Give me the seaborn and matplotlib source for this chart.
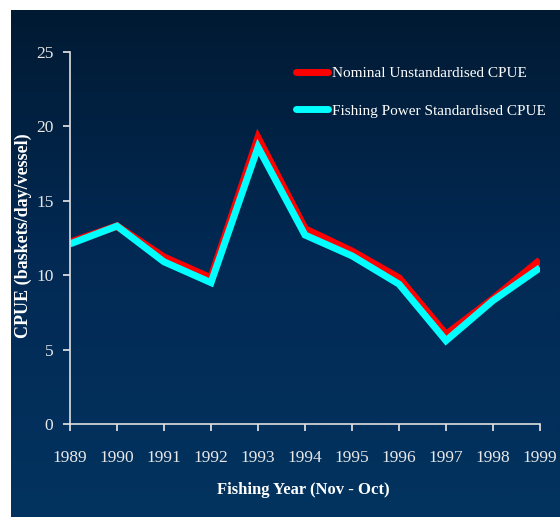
import numpy as np
import pandas as pd
import matplotlib
matplotlib.use("Agg")
import matplotlib.pyplot as plt
import seaborn as sns
from matplotlib.colors import LinearSegmentedColormap
from matplotlib.lines import Line2D

years = [1989, 1990, 1991, 1992, 1993, 1994, 1995, 1996, 1997, 1998, 1999]
nominal = [12.2, 13.3, 11.2, 9.8, 19.2, 13.1, 11.6, 9.8, 6.0, 8.4, 11.0]
standardised = [12.1, 13.3, 10.9, 9.5, 18.6, 12.7, 11.3, 9.4, 5.6, 8.3, 10.5]
series_names = ["Nominal Unstandardised CPUE", "Fishing Power Standardised CPUE"]
y_ticks = [0, 5, 10, 15, 20, 25]

df = pd.DataFrame({
    "year": years * 2,
    "cpue": nominal + standardised,
    "series": [series_names[0]] * len(years) + [series_names[1]] * len(years),
})

sns.set_theme(style="ticks")
plt.rcParams["font.family"] = ["Liberation Serif", "DejaVu Serif"]

W, H = 560, 517
fig = plt.figure(figsize=(W / 100, H / 100), dpi=100)
fig.patch.set_facecolor("white")

# gradient background
bg = fig.add_axes([11 / W, 0, (W - 11) / W, (H - 10) / H])
cmap = LinearSegmentedColormap.from_list("bg", ["#011a33", "#022a55", "#02335f"])
grad = np.linspace(0, 1, 256).reshape(-1, 1)
bg.imshow(grad, aspect="auto", cmap=cmap, extent=[0, 1, 0, 1], origin="upper")
bg.set_axis_off()

ax = fig.add_axes([70 / W, (H - 424) / H, (540 - 70) / W, (424 - 52) / H])
ax.set_facecolor("none")

sns.lineplot(data=df, x="year", y="cpue", hue="series",
             palette={series_names[0]: "#ff0000", series_names[1]: "#00ffff"},
             ax=ax, legend=False, sort=False)
for ln in ax.lines:
    ln.set_solid_joinstyle("miter")
    ln.set_solid_capstyle("butt")
ax.lines[0].set_linewidth(5.5)
ax.lines[1].set_linewidth(5)

ax.set_xlim(1989, 1999)
ax.set_ylim(0, 25)
ax.set_xticks(years)
ax.set_yticks(y_ticks)
for s in ["top", "right"]:
    ax.spines[s].set_visible(False)
for s in ["left", "bottom"]:
    ax.spines[s].set_color("#e0e0e0")
    ax.spines[s].set_linewidth(1.2)
ax.tick_params(colors="#e8e8e8", labelsize=12.5, length=5, width=1.2)
ax.tick_params(axis="x", pad=14)
ax.tick_params(axis="y", pad=7)
ax.set_xlabel("Fishing Year (Nov - Oct)", color="white", fontsize=12,
              fontweight="bold")
ax.xaxis.set_label_coords((303 - 70) / 470, (424 - 482) / 372)
ax.set_ylabel("CPUE (baskets/day/vessel)", color="white",
              fontsize=13, fontweight="bold")
ax.yaxis.set_label_coords((32 - 70) / 470, (424 - 236) / 372)

handles = [Line2D([], [], color="#ff0000", lw=5),
           Line2D([], [], color="#00ffff", lw=5)]
leg = ax.legend(handles, series_names, loc="upper left",
                bbox_to_anchor=((282 - 70) / 470, (424 - 53) / 372),
                frameon=False, fontsize=11,
                handlelength=2.1, handletextpad=0.25, labelspacing=1.55)
for t in leg.get_texts():
    t.set_color("white")

fig.savefig("out.png", dpi=100, facecolor=fig.get_facecolor())
